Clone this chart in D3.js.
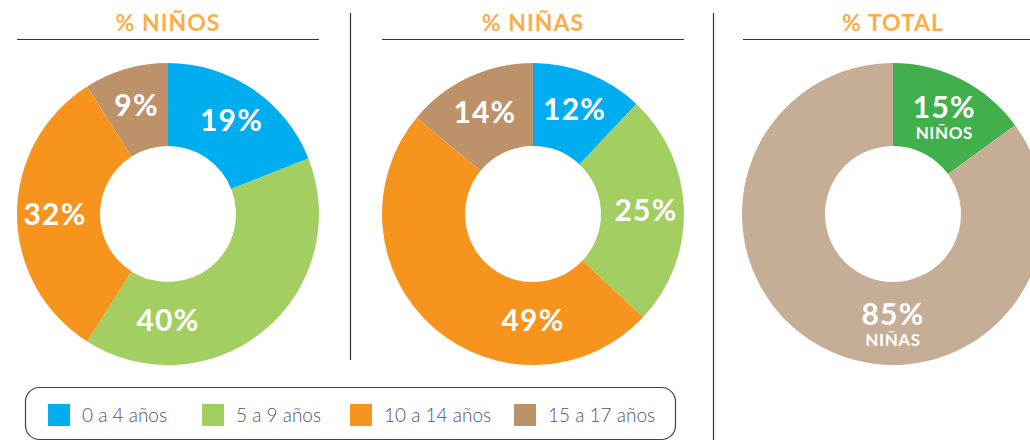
<!DOCTYPE html>
<html>
<head>
<meta charset="utf-8">
<script src="https://cdn.jsdelivr.net/npm/d3@7"></script>
<style>
  body { margin: 0; background: #fff; }
  svg { display: block; font-family: Lato, "Open Sans", sans-serif; }
</style>
</head>
<body>
<div id="root"></div>
<script>
// data
const ageGroups = ["0 a 4 años", "5 a 9 años", "10 a 14 años", "15 a 17 años"]
const ageColors = ["#00AEEF", "#A3CF62", "#F7941D", "#BD9269"]
const ninosValues = [19, 40, 32, 9]
const ninasValues = [12, 25, 49, 14]
const totalGroups = ["NIÑOS", "NIÑAS"]
const totalValues = [15, 85]
const totalColors = ["#41AF4B", "#C5AE95"]
const titles = ["% NIÑOS", "% NIÑAS", "% TOTAL"]

const w = 1030
const h = 442
const cy = 214
const outerRadius = 151
const innerRadius = 68

const svg = d3.select("#root")
    .append("svg")
    .attr("width", w)
    .attr("height", h)

const pie = d3.pie().sort(null).value(d => d.value)
const arc = d3.arc().innerRadius(innerRadius).outerRadius(outerRadius)

const charts = [
    { cx: 168, data: ninosValues.map((v, i) => ({ value: v, color: ageColors[i] })), lineX: [17, 319] },
    { cx: 533, data: ninasValues.map((v, i) => ({ value: v, color: ageColors[i] })), lineX: [382, 684] },
    { cx: 893, data: totalValues.map((v, i) => ({ value: v, color: totalColors[i], sub: totalGroups[i] })), lineX: [743, 1030] }
]

// segments crossing the bottom get their label straight down
const crossesBottom = d => d.startAngle < Math.PI && d.endAngle > Math.PI
const labelAngle = d => crossesBottom(d) ? Math.PI : (d.startAngle + d.endAngle) / 2
const labelRadius = d => crossesBottom(d) ? 106 : 113

charts.forEach((c, ci) => {
    svg.append("text")
        .attr("x", c.cx)
        .attr("y", 31)
        .attr("text-anchor", "middle")
        .attr("font-size", 23)
        .attr("font-weight", 700)
        .attr("letter-spacing", 1)
        .attr("fill", "#FBAD48")
        .text(titles[ci])

    svg.append("line")
        .attr("x1", c.lineX[0]).attr("x2", c.lineX[1])
        .attr("y1", 39.5).attr("y2", 39.5)
        .attr("stroke", "#333").attr("stroke-width", 1.2)

    const g = svg.append("g").attr("transform", `translate(${c.cx}, ${cy})`)
    const arcs = g.selectAll("g.arc")
        .data(pie(c.data))
        .enter()
        .append("g")
        .attr("class", "arc")

    arcs.append("path")
        .attr("fill", d => d.data.color)
        .attr("d", arc)

    arcs.each(function (d) {
        const a = labelAngle(d)
        const r = labelRadius(d)
        const x = r * Math.sin(a)
        const y = -r * Math.cos(a)
        const t = d3.select(this)
        t.append("text")
            .attr("x", x)
            .attr("y", d.data.sub ? y - 6 : y)
            .attr("dy", "0.36em")
            .attr("text-anchor", "middle")
            .attr("font-size", 30)
            .attr("font-weight", 700)
            .attr("letter-spacing", 1.2)
            .attr("fill", "white")
            .text(d.data.value + "%")
        if (d.data.sub) {
            t.append("text")
                .attr("x", x)
                .attr("y", y + 20)
                .attr("dy", "0.36em")
                .attr("text-anchor", "middle")
                .attr("font-size", 17)
                .attr("font-weight", 700)
                .attr("letter-spacing", 0.6)
                .attr("fill", "white")
                .text(d.data.sub)
        }
    })
})

// separators
svg.append("line").attr("x1", 350.5).attr("x2", 350.5).attr("y1", 13).attr("y2", 360)
    .attr("stroke", "#333").attr("stroke-width", 1.2)
svg.append("line").attr("x1", 713.5).attr("x2", 713.5).attr("y1", 13).attr("y2", 440)
    .attr("stroke", "#333").attr("stroke-width", 1.2)

// legend
svg.append("rect")
    .attr("x", 25.5).attr("y", 387.5)
    .attr("width", 650).attr("height", 52)
    .attr("rx", 14)
    .attr("fill", "none")
    .attr("stroke", "#444").attr("stroke-width", 1.2)

const legendX = [48, 202, 350, 514]
const items = svg.selectAll("g.legend")
    .data(ageGroups)
    .enter()
    .append("g")
    .attr("class", "legend")
    .attr("transform", (d, i) => `translate(${legendX[i]}, 404)`)

items.append("rect")
    .attr("width", 22).attr("height", 22)
    .attr("fill", (d, i) => ageColors[i])

items.append("text")
    .attr("x", 34)
    .attr("y", 11)
    .attr("dy", "0.35em")
    .attr("font-size", 19)
    .attr("font-weight", 300)
    .attr("fill", "#555")
    .text(d => d)
</script>
</body>
</html>
